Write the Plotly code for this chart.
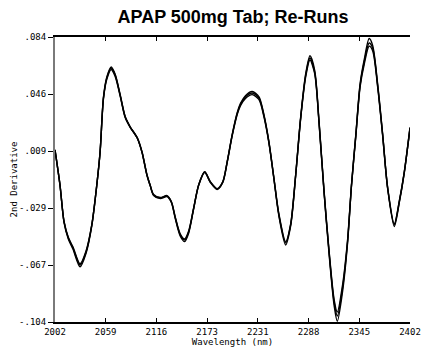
import plotly.graph_objects as go

# Wavelength (nm)
wavelength = [2002.0, 2007.6, 2012.2, 2017.0, 2022.3, 2030.2, 2037.0, 2043.5, 2049.1, 2052.8,
              2056.6, 2060.4, 2065.3, 2069.8, 2075.4, 2081.1, 2086.7, 2094.7, 2100.0, 2105.6,
              2109.3, 2113.1, 2120.7, 2128.2, 2133.1, 2137.6, 2143.2, 2148.1, 2152.6, 2158.3,
              2163.9, 2170.7, 2177.1, 2184.7, 2191.0, 2196.0, 2201.7, 2207.3, 2211.0, 2216.6,
              2224.2, 2231.7, 2237.3, 2243.0, 2248.6, 2254.3, 2261.9, 2267.5, 2273.2, 2278.8,
              2284.5, 2289.3, 2294.6, 2299.5, 2305.2, 2310.8, 2316.5, 2320.1, 2326.0, 2331.6,
              2336.1, 2341.0, 2345.8, 2350.4, 2356.0, 2359.9, 2365.5, 2371.2, 2376.8, 2384.3,
              2389.9, 2395.6, 2402.0]

# 2nd derivative, run 1
run_1 = [0.0095, -0.0136, -0.0380, -0.0486, -0.0552, -0.0664, -0.0578, -0.0400, -0.0136, 0.0081,
         0.0438, 0.0570, 0.0636, 0.0589, 0.0457, 0.0312, 0.0246, 0.0174, 0.0081, -0.0070,
         -0.0140, -0.0202, -0.0222, -0.0209, -0.0248, -0.0354, -0.0466, -0.0499, -0.0446, -0.0288,
         -0.0136, -0.0051, -0.0117, -0.0163, -0.0117, 0.0015, 0.0194, 0.0335, 0.0395, 0.0445,
         0.0471, 0.0438, 0.0325, 0.0147, -0.0090, -0.0334, -0.0519, -0.0400, -0.0070, 0.0306,
         0.0589, 0.0701, 0.0609, 0.0279, -0.0183, -0.0578, -0.0908, -0.1000, -0.0816, -0.0512,
         -0.0136, 0.0194, 0.0523, 0.0675, 0.0800, 0.0767, 0.0523, 0.0194, -0.0156, -0.0400,
         -0.0248, -0.0051, 0.0240]

# run 2
run_2 = [0.0095, -0.0138, -0.0384, -0.0492, -0.0560, -0.0676, -0.0586, -0.0404, -0.0138, 0.0079,
         0.0432, 0.0562, 0.0626, 0.0580, 0.0452, 0.0309, 0.0244, 0.0172, 0.0079, -0.0072,
         -0.0142, -0.0205, -0.0226, -0.0213, -0.0252, -0.0360, -0.0474, -0.0510, -0.0454, -0.0292,
         -0.0138, -0.0054, -0.0120, -0.0166, -0.0120, 0.0012, 0.0189, 0.0328, 0.0387, 0.0435,
         0.0460, 0.0428, 0.0317, 0.0142, -0.0094, -0.0342, -0.0532, -0.0408, -0.0074, 0.0300,
         0.0578, 0.0688, 0.0598, 0.0272, -0.0190, -0.0590, -0.0930, -0.1035, -0.0840, -0.0524,
         -0.0140, 0.0188, 0.0512, 0.0660, 0.0780, 0.0750, 0.0512, 0.0188, -0.0160, -0.0410,
         -0.0254, -0.0054, 0.0236]

# run 3
run_3 = [0.0096, -0.0134, -0.0377, -0.0481, -0.0546, -0.0656, -0.0571, -0.0396, -0.0134, 0.0083,
         0.0443, 0.0576, 0.0642, 0.0594, 0.0461, 0.0315, 0.0248, 0.0176, 0.0083, -0.0068,
         -0.0138, -0.0199, -0.0219, -0.0206, -0.0245, -0.0350, -0.0460, -0.0492, -0.0440, -0.0285,
         -0.0134, -0.0049, -0.0115, -0.0160, -0.0115, 0.0018, 0.0198, 0.0341, 0.0402, 0.0453,
         0.0480, 0.0446, 0.0331, 0.0151, -0.0087, -0.0328, -0.0510, -0.0394, -0.0066, 0.0311,
         0.0598, 0.0716, 0.0620, 0.0285, -0.0177, -0.0568, -0.0892, -0.0975, -0.0796, -0.0502,
         -0.0132, 0.0199, 0.0533, 0.0690, 0.0830, 0.0785, 0.0533, 0.0199, -0.0152, -0.0392,
         -0.0243, -0.0048, 0.0244]

runs = [run_1, run_2, run_3]

x_tick_labels = ["2002", "2059", "2116", "2173", "2231", "2288", "2345", "2402"]
y_tick_labels = [".084", ".046", ".009", "-.029", "-.067", "-.104"]

x_min, x_max = 2002, 2402
y_min, y_max = -0.104, 0.084
x_tickvals = [x_min + i * (x_max - x_min) / (len(x_tick_labels) - 1) for i in range(len(x_tick_labels))]
y_tickvals = [y_max - i * (y_max - y_min) / (len(y_tick_labels) - 1) for i in range(len(y_tick_labels))]

mono = "DejaVu Sans Mono"

fig = go.Figure()
for r in runs:
    fig.add_trace(go.Scatter(x=wavelength, y=r, mode="lines",
                             line=dict(color="black", width=1.4, shape="spline", smoothing=0.8),
                             showlegend=False, hoverinfo="skip"))

# the page body has an 8px default margin, so the figure is offset by 8px
fig.update_layout(
    width=444, height=361,
    margin=dict(l=47, r=42, t=29, b=47, autoexpand=False),
    paper_bgcolor="white", plot_bgcolor="white",
    title=dict(text="<b>APAP 500mg Tab; Re-Runs</b>", x=225 / 444, xanchor="center",
               y=1 - 9 / 361, yanchor="middle",
               font=dict(family="Liberation Sans", size=18, color="black")),
    xaxis=dict(range=[x_min, x_max], tickvals=x_tickvals, ticktext=x_tick_labels,
               showline=True, linecolor="black", linewidth=1.5, mirror="ticks",
               ticks="inside", ticklen=4, tickcolor="black", tickwidth=1,
               showgrid=False, zeroline=False, automargin=False,
               tickfont=dict(family=mono, size=9, color="black"),
               title=dict(text="Wavelength (nm)", standoff=0,
                          font=dict(family=mono, size=9, color="black"))),
    yaxis=dict(range=[y_min, y_max], tickvals=y_tickvals, ticktext=y_tick_labels,
               showline=True, linecolor="#7a7a7a", linewidth=2,
               ticks="outside", ticklen=5, tickcolor="black", tickwidth=1,
               showgrid=False, zeroline=False, automargin=False,
               tickfont=dict(family=mono, size=9, color="black"),
               title=dict(text="2nd Derivative", standoff=0,
                          font=dict(family=mono, size=9, color="black"))),
    yaxis2=dict(range=[y_min, y_max], tickvals=y_tickvals, overlaying="y", side="right",
                anchor="x", showline=True, linecolor="black", linewidth=1,
                ticks="inside", ticklen=4, tickcolor="black", showticklabels=False,
                showgrid=False, zeroline=False, automargin=False),
)

fig.write_html("out.html")
